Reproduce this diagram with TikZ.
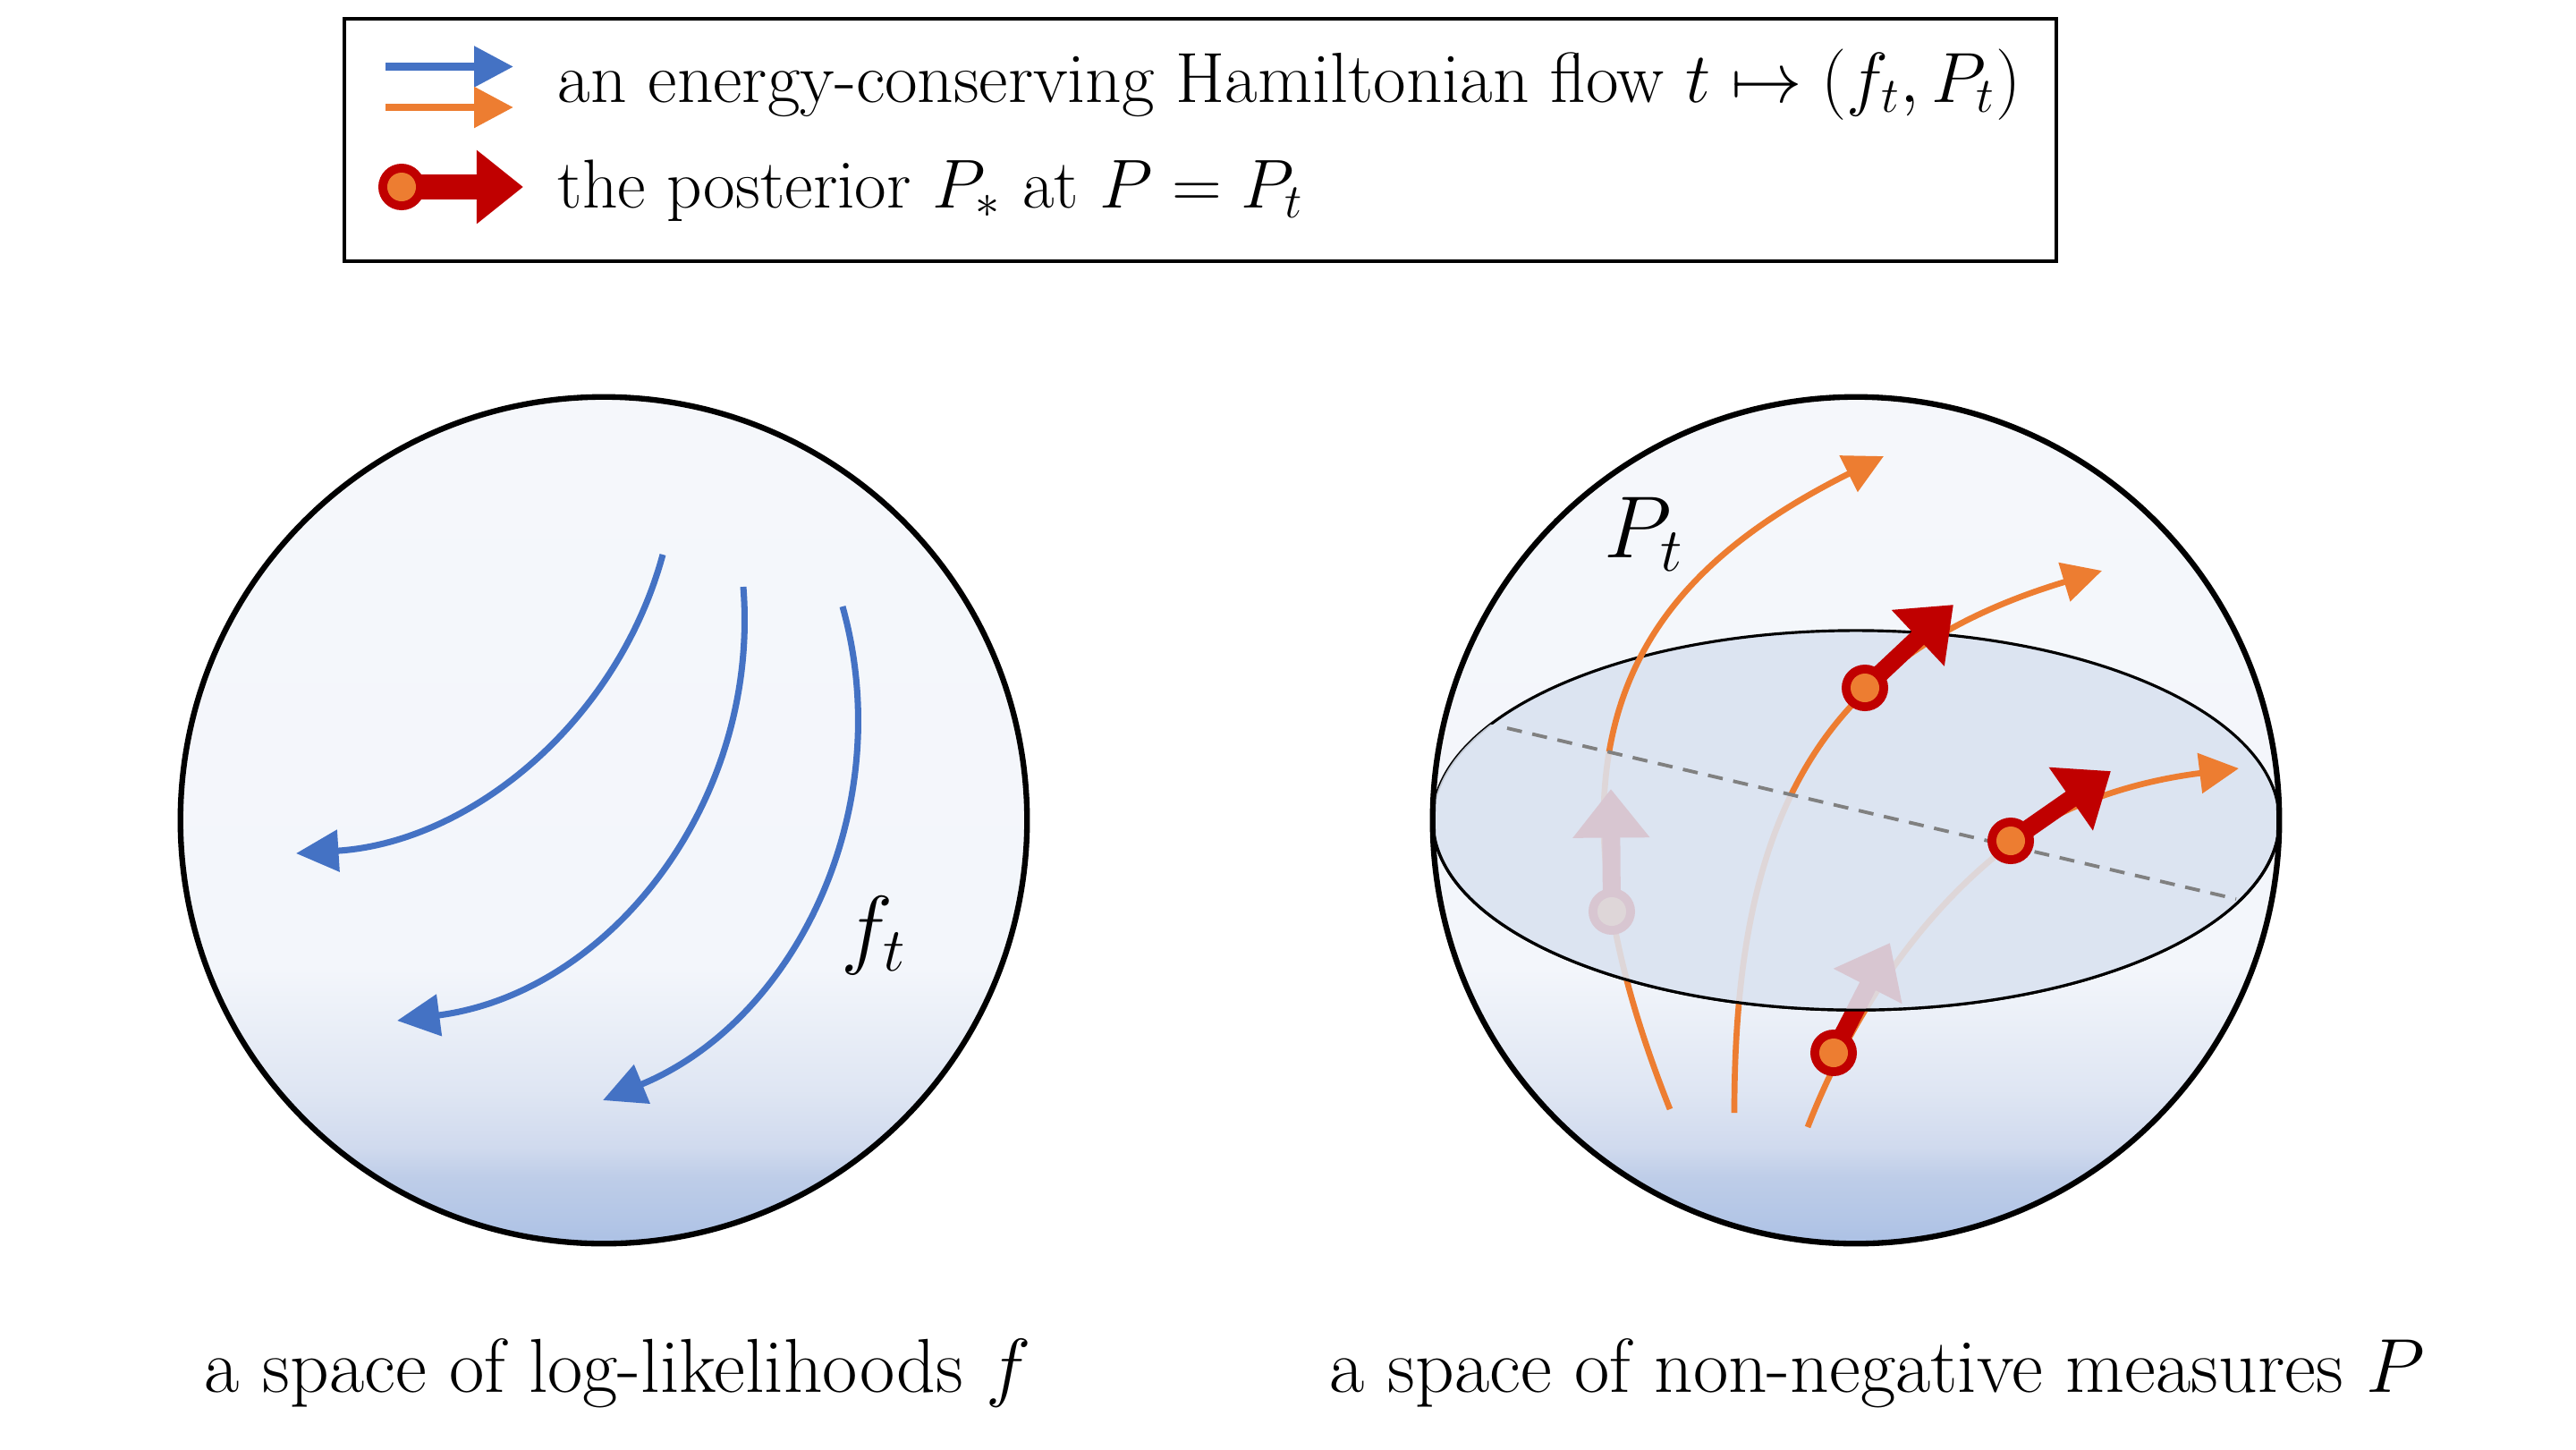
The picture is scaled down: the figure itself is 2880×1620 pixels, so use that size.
\RequirePackage{fix-cm}
\documentclass[tikz,border=0pt]{standalone}
\usetikzlibrary{arrows.meta}
\definecolor{myblue}{HTML}{4472C4}
\definecolor{myorange}{HTML}{ED7D31}
\definecolor{myred}{HTML}{C00000}
\definecolor{diskfill}{HTML}{DCE4F1}
\definecolor{dashgray}{HTML}{808080}
\definecolor{sphA}{HTML}{ACC1E4}
\definecolor{sphB}{HTML}{B2C5E6}
\definecolor{sphC}{HTML}{BECDE8}
\definecolor{sphD}{HTML}{D0DAEE}
\definecolor{sphE}{HTML}{DFE6F3}
\definecolor{sphF}{HTML}{F3F6FB}
\definecolor{sphG}{HTML}{F5F7FB}
\pgfdeclareverticalshading{sphshade}{100bp}{color(0bp)=(sphA); color(25bp)=(sphA); color(26.2bp)=(sphB); color(28.9bp)=(sphC); color(30.7bp)=(sphD); color(34.1bp)=(sphE); color(41.2bp)=(sphF); color(75bp)=(sphG); color(100bp)=(sphG)}
\begin{document}
\begin{tikzpicture}[x=0.01cm,y=-0.01cm,
  txt/.style={font=\fontsize{22.6}{27}\selectfont, inner sep=0pt, text=black},
  txtb/.style={font=\fontsize{22}{27}\selectfont, inner sep=0pt, text=black},
  captxt/.style={font=\fontsize{24.3}{29}\selectfont, inner sep=0pt, text=black},
  labtxt/.style={font=\fontsize{28}{33}\selectfont, inner sep=0pt, text=black},
  flowb/.style={draw=myblue, line width=2pt, -{Triangle[length=13.5pt,width=13pt]}},
  flowo/.style={draw=myorange, line width=1.9pt, -{Triangle[length=12.5pt,width=12.5pt]}},
  postarr/.style={draw=myred, line width=5.7pt, -{Triangle[length=15.5pt,width=23.5pt]}},
  sphereline/.style={line width=1.8pt},
  diskline/.style={line width=0.9pt},
]
\path[use as bounding box] (0,0) rectangle (2880,1620);

% ---------- legend ----------
\draw[line width=1pt] (385,21) rectangle (2299,292);
\coordinate (lb1) at (431,74.5);
\coordinate (lb2) at (574,74.5);
\coordinate (lo1) at (431,120);
\coordinate (lo2) at (574,120);
\coordinate (lr1) at (449,209);
\coordinate (lr2) at (585,209);
\draw[draw=myblue, line width=2.5pt, -{Triangle[length=12.5pt,width=12.5pt]}] (lb1) -- (lb2);
\draw[draw=myorange, line width=2.5pt, -{Triangle[length=12.5pt,width=12.5pt]}] (lo1) -- (lo2);
\draw[draw=myred, line width=7.7pt, -{Triangle[length=14.8pt,width=22.5pt]}] (lr1) -- (lr2);
\fill[myred] (lr1) circle[radius=0.26cm];
\fill[myorange] (lr1) circle[radius=0.16cm];
\node[txt, anchor=base west] (leg1) at (623,114) {an energy-conserving Hamiltonian flow $t\mapsto(f_t,P_t)$};
\node[txtb, anchor=base west] (leg2) at (623,232) {the posterior $P_*$ at $P=P_t$};

% ---------- left sphere ----------
\coordinate (cl) at (675,917);
\shade[shading=sphshade] (cl) circle[radius=4.73cm];
\draw[flowb] (741,620) .. controls (690,808) and (525,942) .. (331,954);
\draw[flowb] (831,656) .. controls (850,895) and (683,1110) .. (444,1141);
\draw[flowb] (942,678) .. controls (1005,903) and (890,1141) .. (674,1230);
\node[labtxt] (flab) at (977,1046) {$f_t$};
\draw[sphereline] (cl) circle[radius=4.73cm];
\node[captxt, anchor=base] (capl) at (691,1556) {a space of log-likelihoods $f$};

% ---------- right sphere ----------
\coordinate (cr) at (2075,917);
\shade[shading=sphshade] (cr) circle[radius=4.73cm];
\fill[diskfill] (cr) ellipse[x radius=4.73cm, y radius=2.12cm];
\draw[diskline] (cr) ellipse[x radius=4.73cm, y radius=2.12cm];

% flow lines
\draw[flowo] (1867,1240) .. controls (1700,820) and (1836,645) .. (2106,510);
\draw[flowo] (1939,1244) .. controls (1939,914) and (2034,733) .. (2350,638);
\draw[flowo] (2021,1260) .. controls (2068,1139) and (2146,1020) .. (2250,942)
                         .. controls (2322,888) and (2414,870) .. (2503,859);

% posterior markers (behind the disk front)
\coordinate (m4) at (1802,1019);
\coordinate (t4) at (1801,882);
\coordinate (m3) at (2050,1177);
\coordinate (t3) at (2113,1054);
\draw[postarr] (m4) -- (t4);
\fill[myred] (m4) circle[radius=0.26cm];
\fill[myorange] (m4) circle[radius=0.16cm];
\draw[postarr] (m3) -- (t3);
\fill[myred] (m3) circle[radius=0.26cm];
\fill[myorange] (m3) circle[radius=0.16cm];

% front half of disk, semi-opaque
\begin{scope}
  \clip (cr) ellipse[x radius=4.73cm, y radius=2.12cm];
  \clip (1550,782.4) -- (2600,1028.5) -- (2600,1300) -- (1550,1300) -- cycle;
  \fill[diskfill, fill opacity=0.87] (1500,700) rectangle (2650,1300);
\end{scope}
\draw[diskline] (1602,917) arc[start angle=180, end angle=360, x radius=4.73cm, y radius=2.12cm];
\draw[dashgray, line width=1.1pt, dash pattern=on 4.8pt off 3.4pt] (1685,814) -- (2500,1005);

% posterior markers (in front)
\coordinate (m1) at (2085,769);
\coordinate (t1) at (2184,676);
\coordinate (m2) at (2248,940);
\coordinate (t2) at (2360,862);
\draw[postarr] (m1) -- (t1);
\fill[myred] (m1) circle[radius=0.26cm];
\fill[myorange] (m1) circle[radius=0.16cm];
\draw[postarr] (m2) -- (t2);
\fill[myred] (m2) circle[radius=0.26cm];
\fill[myorange] (m2) circle[radius=0.16cm];

\draw[sphereline] (cr) circle[radius=4.73cm];
\node[labtxt] (plab) at (1838,597) {$P_t$};
\node[captxt, anchor=base] (capr) at (2099,1556) {a space of non-negative measures $P$};
\end{tikzpicture}
\end{document}
